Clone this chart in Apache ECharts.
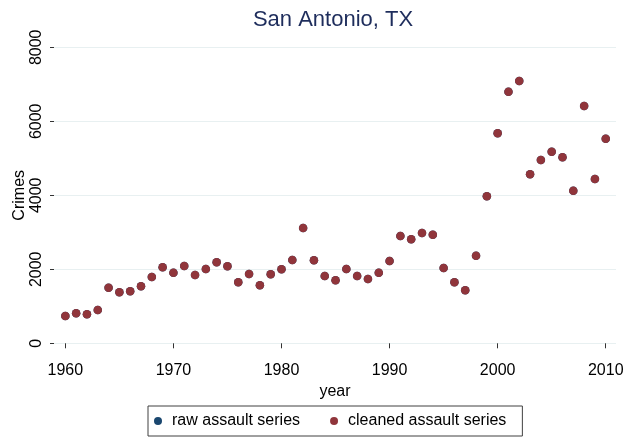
<!DOCTYPE html>
<html>
<head>
<meta charset="utf-8">
<script src="https://cdn.jsdelivr.net/npm/echarts@6/dist/echarts.min.js"></script>
<style>
html,body{margin:0;padding:0;background:#ffffff;}
#chart{width:636px;height:438px;}
</style>
</head>
<body>
<div id="chart"></div>
<script>
var years = [1960,1961,1962,1963,1964,1965,1966,1967,1968,1969,
             1970,1971,1972,1973,1974,1975,1976,1977,1978,1979,
             1980,1981,1982,1983,1984,1985,1986,1987,1988,1989,
             1990,1991,1992,1993,1994,1995,1996,1997,1998,1999,
             2000,2001,2002,2003,2004,2005,2006,2007,2008,2009,2010];
var rawAssault = [738,811,784,900,1503,1378,1405,1541,1792,2054,
                  1908,2089,1846,2008,2189,2081,1649,1873,1568,1865,
                  2000,2251,3116,2243,1819,1707,2008,1819,1738,1908,
                  2224,2900,2811,2981,2935,2035,1649,1432,2368,3973,
                  5676,6800,7089,4568,4954,5178,5027,4124,6414,4441,5530];
var cleanedAssault = [738,811,784,900,1503,1378,1405,1541,1792,2054,
                      1908,2089,1846,2008,2189,2081,1649,1873,1568,1865,
                      2000,2251,3116,2243,1819,1707,2008,1819,1738,1908,
                      2224,2900,2811,2981,2935,2035,1649,1432,2368,3973,
                      5676,6800,7089,4568,4954,5178,5027,4124,6414,4441,5530];
var xTicks = [1960,1970,1980,1990,2000,2010];
var yTicks = [0,2000,4000,6000,8000];
var seriesNames = ['raw assault series','cleaned assault series'];
var titleText = 'San Antonio, TX';
var xTitle = 'year';
var yTitle = 'Crimes';

function pairs(xs, ys){ return xs.map(function(x,i){ return [x, ys[i]]; }); }
function plain(v){ return String(v); }

var FONT = 'Liberation Sans, Arial, sans-serif';
var chart = echarts.init(document.getElementById('chart'), null, {renderer:'canvas'});
chart.setOption({
  animation:false,
  backgroundColor:'#ffffff',
  title:{
    text:titleText, left:328, textAlign:'center', top:4,
    textStyle:{color:'#1e2d5c', fontSize:22, fontWeight:'normal', fontFamily:FONT}
  },
  grid:{left:54, right:20, top:47.3, bottom:94.7, containLabel:false, outerBoundsMode:'none'},
  xAxis:{
    type:'value', min:1958.95, max:2010.95, offset:10.5,
    name:xTitle, nameLocation:'middle', nameGap:27,
    nameTextStyle:{color:'#000', fontSize:16, fontFamily:FONT},
    axisLine:{show:false},
    axisTick:{show:true, length:5, customValues:xTicks, lineStyle:{color:'#333', width:1}},
    axisLabel:{customValues:xTicks, formatter:plain, color:'#000', fontSize:16, fontFamily:FONT, margin:9},
    splitLine:{show:false}
  },
  yAxis:{
    type:'value', min:0, max:8000, interval:2000,
    name:yTitle, nameLocation:'middle', nameGap:26, nameRotate:90, nameMoveOverlap:false,
    nameTextStyle:{color:'#000', fontSize:16, fontFamily:FONT},
    axisLine:{show:false},
    axisTick:{show:true, length:4, customValues:yTicks, lineStyle:{color:'#333', width:1}},
    axisLabel:{rotate:90, customValues:yTicks, formatter:plain, color:'#000', fontSize:16, fontFamily:FONT, margin:9},
    splitLine:{show:true, lineStyle:{color:'#e8f0f1', width:1}}
  },
  legend:{
    left:148, top:406,
    padding:[7,16,7,6],
    itemWidth:8, itemHeight:8, itemGap:30,
    borderColor:'#404040', borderWidth:1,
    textStyle:{color:'#000', fontSize:16, fontFamily:FONT, padding:[0,0,0,5]},
    data:[{name:seriesNames[0], icon:'circle'},{name:seriesNames[1], icon:'circle'}]
  },
  series:[
    {name:seriesNames[0], type:'scatter', symbol:'circle', symbolSize:8.5,
     itemStyle:{color:'#1a476f', opacity:1}, data:pairs(years, rawAssault)},
    {name:seriesNames[1], type:'scatter', symbol:'circle', symbolSize:8.5,
     itemStyle:{color:'#90353b', opacity:1}, data:pairs(years, cleanedAssault)}
  ]
});
</script>
</body>
</html>
